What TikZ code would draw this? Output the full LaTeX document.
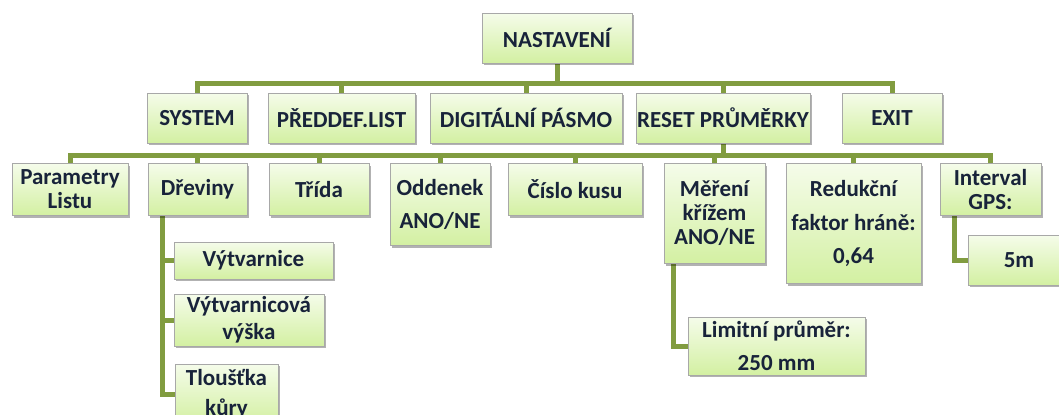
\documentclass[tikz,border=0pt]{standalone}
\usepackage{fontspec}
\setmainfont{Carlito}
\usetikzlibrary{shadows}
\pgfdeclarelayer{bg}
\pgfsetlayers{bg,main}
\definecolor{vetev}{HTML}{819C40}
\definecolor{ramecek}{HTML}{A8A8A8}
\definecolor{horni}{HTML}{F5FCEA}
\definecolor{dolni}{HTML}{D3F0A2}
\definecolor{pismo}{HTML}{18233A}

\begin{document}
\begin{tikzpicture}[x=0.5pt,y=-0.5pt,
    box/.style={draw=ramecek, line width=0.5pt, top color=horni, bottom color=dolni,
      drop shadow={shadow xshift=0.8pt, shadow yshift=-1.2pt, fill=black, opacity=0.3},
      text=pismo, font=\bfseries\fontsize{11.5}{12}\selectfont, align=center, inner sep=0pt},
    conn/.style={draw=vetev, line width=2.5pt}]
                        \clip (0,0) rectangle (1059,414);
                        \node[box, minimum width=75pt, minimum height=25pt] (nast) at (557,38) {NASTAVENÍ};
                        \node[box, minimum width=50pt, minimum height=25pt] (system) at (197,118) {SYSTEM};
                        \node[box, minimum width=73.5pt, minimum height=25pt] (predef) at (341.5,118) {PŘEDDEF.LIST};
                        \node[box, minimum width=96pt, minimum height=25pt] (digit) at (526,118) {DIGITÁLNÍ PÁSMO};
                        \node[box, minimum width=87pt, minimum height=25pt] (reset) at (723,118) {RESET PRŮMĚRKY};
                        \node[box, minimum width=50pt, minimum height=25pt] (exit) at (892,118) {EXIT};
                        \node[box, anchor=north, minimum width=58pt, minimum height=26pt] (param) at (70,163) {Parametry\\Listu};
                        \node[box, anchor=north, minimum width=49.5pt, minimum height=26pt] (dreviny) at (197.5,163) {Dřeviny};
                        \node[box, anchor=north, minimum width=50pt, minimum height=41pt] (oddenek) at (440,163) {Oddenek\\[4.5pt]ANO/NE};
                        \node[box, anchor=north, minimum width=50pt, minimum height=26pt] (trida) at (319,163) {Třída};
                        \node[box, anchor=north, minimum width=67pt, minimum height=26pt] (cislo) at (575,163) {Číslo kusu};
                        \node[box, anchor=north, minimum width=50.5pt, minimum height=50pt] (mereni) at (714.5,163) {Měření\\křížem\\ANO/NE};
                        \node[box, anchor=north, minimum width=67.5pt, minimum height=60pt] (redukce) at (853.5,163) {Redukční\\[5pt]faktor hráně:\\[4.5pt]0,64};
                        \node[box, anchor=north, minimum width=50.5pt, minimum height=26pt] (interval) at (990.5,163) {Interval\\GPS:};
                        \node[box, minimum width=79.5pt, minimum height=18.5pt] (vytv) at (253.5,260.5) {Výtvarnice};
                        \node[box, minimum width=75pt, minimum height=26pt] (vyska) at (249,320) {Výtvarnicová\\[1.5pt]výška};
                        \node[box, minimum width=51.5pt, minimum height=30pt] (kura) at (226.5,394) {Tloušťka\\[3pt]kůry};
                        \node[box, minimum width=88.5pt, minimum height=29pt] (limit) at (776.5,346) {Limitní průměr:\\[4.5pt]250 mm};
                        \node[box, minimum width=51pt, minimum height=25pt] (petm) at (1019,260) {5m};
                        \begin{pgfonlayer}{bg}
                        \coordinate (hlavni) at (557,83);
                        \coordinate (resetbar) at (723,155);
                        \draw[conn] (nast.south) -- (hlavni);
                        \foreach \n in {system,predef,digit,reset,exit} \draw[conn] (hlavni) -| (\n.north);
                        \draw[conn] (reset.south) -- (resetbar);
                        \foreach \n in {param,dreviny,trida,oddenek,cislo,mereni,redukce,interval} \draw[conn] (resetbar) -| (\n.north);
                        \foreach \n in {vytv,vyska,kura} \draw[conn] ([xshift=7.5pt]dreviny.south west) |- (\n.west);
                        \draw[conn] ([xshift=5pt]mereni.south west) |- (limit.west);
                        \draw[conn] ([xshift=7.5pt]interval.south west) |- (petm.west);
                        \end{pgfonlayer}
                    \end{tikzpicture}
\end{document}
